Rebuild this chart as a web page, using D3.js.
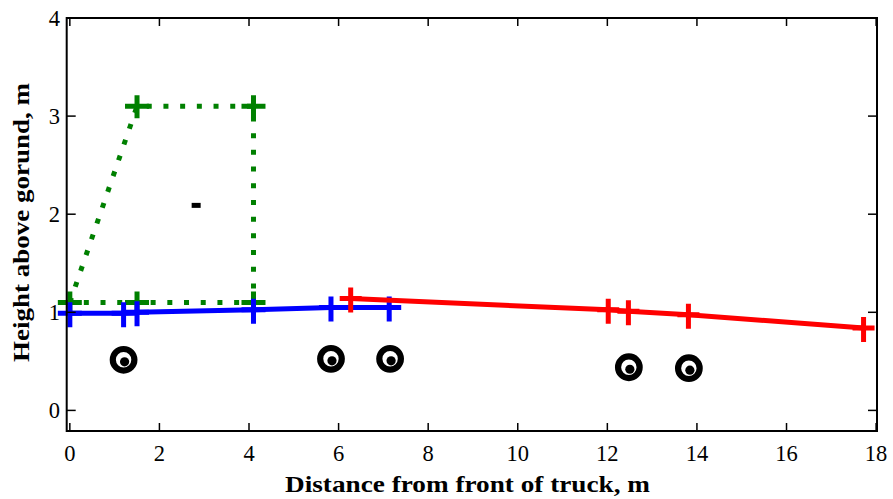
<!DOCTYPE html>
<html>
<head>
<meta charset="utf-8">
<script src="https://cdn.jsdelivr.net/npm/d3@7"></script>
<style>
body{margin:0;background:#fff}
text{font-family:"Liberation Serif","DejaVu Serif",serif}
</style>
</head>
<body>
<svg id="graph"></svg>
<script>
// cab outline (green dotted)
var cabX=[0,1.5,4.1,4.1,1.5,0]
var cabY=[1.1,3.1,3.1,1.1,1.1,1.1]
var cabMarkX=[0,1.5,4.1,1.5,4.1]
var cabMarkY=[1.1,1.1,1.1,3.1,3.1]

// tractor frame (blue)
var tractorX=[0,1.2,1.5,4.1,5.83,7.13]
var tractorY=[0.99,0.99,1.0,1.025,1.05,1.05]

// trailer (red)
var trailerX=[6.27,12.02,12.47,13.81,17.72]
var trailerY=[1.14,1.025,1.01,0.975,0.84]

// wheels
var wheelX=[1.2,5.83,7.15,12.48,13.82]
var wheelY=[0.516,0.526,0.526,0.44,0.43]

var dashX=[2.82]
var dashY=[2.09]

var xTicks=[0,2,4,6,8,10,12,14,16,18]
var yTicks=[0,1,2,3,4]

var screen={width:893,height:499}
var svg=d3.select("#graph")
.attr("width",screen.width)
.attr("height",screen.height)

var xscale=d3.scaleLinear()
.domain([-0.07,18.02])
.range([66.7,877])

var yscale=d3.scaleLinear()
.domain([-0.21,4])
.range([431,18])

var zip=function(xs,ys){return xs.map(function(x,i){return [x,ys[i]]})}

var line=d3.line()
.x(function(d){return xscale(d[0])})
.y(function(d){return yscale(d[1])})

var cross=function(w,up,down){return "M"+(-w)+",0H"+w+"M0,"+(-up)+"V"+down}

var drawCrosses=function(pts,color,w,up,down,sw)
{
  svg.append("g").selectAll("path")
  .data(pts)
  .enter()
  .append("path")
  .attr("transform",function(d){return "translate("+xscale(d[0])+","+yscale(d[1])+")"})
  .attr("d",cross(w,up,down))
  .attr("stroke",color)
  .attr("stroke-width",sw)
  .attr("fill","none")
}

// green cab
svg.append("path")
.datum(zip(cabX,cabY))
.attr("d",line)
.attr("fill","none")
.attr("stroke","#008000")
.attr("stroke-width",5)
.attr("stroke-dasharray","5,11.7")
drawCrosses(zip(cabMarkX,cabMarkY),"#008000",12,11,12,5)

// blue
svg.append("path")
.datum(zip(tractorX,tractorY))
.attr("d",line)
.attr("fill","none")
.attr("stroke","#0000ff")
.attr("stroke-width",5)
drawCrosses(zip(tractorX,tractorY),"#0000ff",12,11,14,5)

// red
svg.append("path")
.datum(zip(trailerX,trailerY))
.attr("d",line)
.attr("fill","none")
.attr("stroke","#ff0000")
.attr("stroke-width",5)
drawCrosses(zip(trailerX,trailerY),"#ff0000",11,11,14,5)

// wheels
var wheels=svg.append("g").selectAll("g")
.data(zip(wheelX,wheelY))
.enter()
.append("g")
.attr("transform",function(d){return "translate("+xscale(d[0])+","+yscale(d[1])+")"})
wheels.append("circle")
.attr("r",10.8)
.attr("fill","#fff")
.attr("stroke","#000")
.attr("stroke-width",6.2)
wheels.append("circle")
.attr("cx",1)
.attr("cy",2)
.attr("r",4.6)
.attr("fill","#000")

svg.append("g").selectAll("rect")
.data(zip(dashX,dashY))
.enter()
.append("rect")
.attr("x",function(d){return xscale(d[0])-4.5})
.attr("y",function(d){return yscale(d[1])-2.5})
.attr("width",9)
.attr("height",5)
.attr("fill","#000")

// frame and ticks
var x0=xscale.range()[0],x1=xscale.range()[1]
var y0=yscale.range()[0],y1=yscale.range()[1]
svg.append("rect")
.attr("x",x0).attr("y",y1)
.attr("width",x1-x0).attr("height",y0-y1)
.attr("fill","none").attr("stroke","#000").attr("stroke-width",2)

var ticks=svg.append("g").attr("stroke","#000").attr("stroke-width",1.5)
xTicks.forEach(function(t)
{
  ticks.append("line").attr("x1",xscale(t)).attr("x2",xscale(t)).attr("y1",y0).attr("y2",y0-8)
  ticks.append("line").attr("x1",xscale(t)).attr("x2",xscale(t)).attr("y1",y1).attr("y2",y1+8)
})
yTicks.forEach(function(t)
{
  ticks.append("line").attr("y1",yscale(t)).attr("y2",yscale(t)).attr("x1",x0).attr("x2",x0+9)
  ticks.append("line").attr("y1",yscale(t)).attr("y2",yscale(t)).attr("x1",x1).attr("x2",x1-9)
})

svg.append("g").selectAll("text")
.data(xTicks)
.enter()
.append("text")
.attr("x",function(d){return xscale(d)})
.attr("y",461)
.attr("text-anchor","middle")
.attr("font-size",22.5)
.text(function(d){return d})

svg.append("g").selectAll("text")
.data(yTicks)
.enter()
.append("text")
.attr("x",60)
.attr("y",function(d){return yscale(d)+8})
.attr("text-anchor","end")
.attr("font-size",22.5)
.text(function(d){return d})

svg.append("text")
.attr("x",467.5)
.attr("y",492)
.attr("text-anchor","middle")
.attr("font-size",23)
.attr("font-weight","bold")
.attr("textLength",365)
.attr("lengthAdjust","spacingAndGlyphs")
.text("Distance from front of truck, m")

svg.append("text")
.attr("transform","translate(29,222.5) rotate(-90)")
.attr("text-anchor","middle")
.attr("font-size",23)
.attr("font-weight","bold")
.attr("textLength",279)
.attr("lengthAdjust","spacingAndGlyphs")
.text("Height above gorund, m")
</script>
</body>
</html>
